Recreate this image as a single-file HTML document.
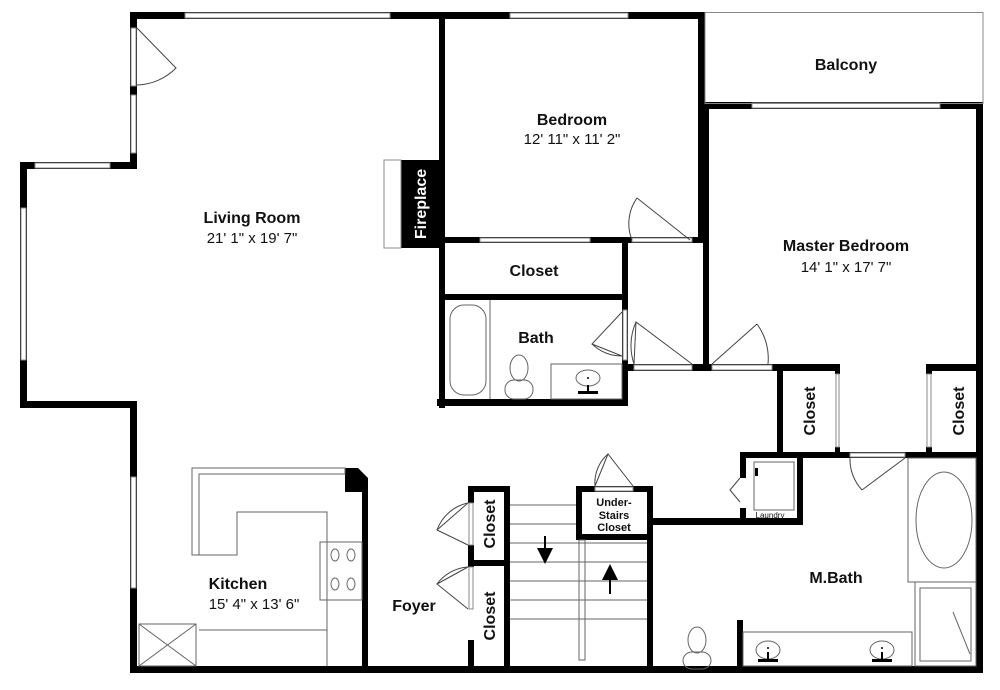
<!DOCTYPE html>
<html><head><meta charset="utf-8"><style>
html,body{margin:0;padding:0;background:#fff;width:1000px;height:690px;overflow:hidden}
text{font-family:"Liberation Sans",Arial,sans-serif;fill:#111}
.b{font-weight:bold;font-size:16px}
.d{font-size:15px}
</style></head><body>
<svg width="1000" height="690" viewBox="0 0 1000 690" xmlns="http://www.w3.org/2000/svg">
<g fill="#000">
<rect x="130" y="12" width="575" height="7"/>
<rect x="130" y="12" width="7" height="157"/>
<rect x="20" y="162" width="117" height="7"/>
<rect x="20" y="162" width="7" height="246"/>
<rect x="20" y="401" width="117" height="7"/>
<rect x="130" y="401" width="7" height="272"/>
<rect x="130" y="666" width="853" height="7"/>
<rect x="976" y="103" width="7" height="570"/>
<rect x="439" y="12" width="6" height="396"/>
<rect x="698" y="12" width="7" height="231"/>
<rect x="705" y="102" width="278" height="7"/>
<rect x="703" y="102" width="6" height="268"/>
<rect x="445" y="237" width="255" height="6"/>
<rect x="445" y="294" width="183" height="6"/>
<rect x="622" y="237" width="6" height="169"/>
<rect x="437" y="399" width="191" height="7"/>
<rect x="622" y="364" width="161" height="7"/>
<rect x="777" y="364" width="63" height="7"/>
<rect x="777" y="364" width="6" height="94"/>
<rect x="835" y="364" width="5" height="10"/><rect x="835" y="447" width="5" height="10"/>
<rect x="740" y="452" width="243" height="6"/>
<rect x="926" y="364" width="57" height="7"/>
<rect x="926" y="364" width="6" height="10"/><rect x="926" y="447" width="6" height="10"/>
<rect x="740" y="452" width="6" height="26"/>
<rect x="740" y="508" width="6" height="17"/>
<rect x="797" y="452" width="6" height="73"/>
<rect x="650" y="518" width="153" height="7"/>
<rect x="576" y="486" width="77" height="6"/>
<rect x="576" y="486" width="6" height="54"/>
<rect x="576" y="534" width="77" height="6"/>
<rect x="647" y="486" width="6" height="187"/>
<rect x="468" y="486" width="42" height="6"/>
<rect x="468" y="486" width="6" height="17"/><rect x="468" y="545" width="6" height="22"/><rect x="468" y="640" width="6" height="33"/>
<rect x="504" y="486" width="6" height="187"/>
<rect x="468" y="560" width="42" height="6"/>
<rect x="362" y="490" width="6" height="183"/>
<polygon points="345,468 358,468 368,478 368,492 345,492"/>
<rect x="737" y="620" width="6" height="53"/>
<rect x="401" y="160" width="38" height="88"/>
</g>
<g fill="#fff" stroke="#888" stroke-width="1">
<rect x="185" y="13" width="205" height="5"/>
<rect x="510" y="13" width="118" height="5"/>
<rect x="131" y="28" width="5" height="58"/>
<rect x="131" y="95" width="5" height="58"/>
<rect x="35" y="163" width="75" height="5"/>
<rect x="21" y="208" width="5" height="152"/>
<rect x="131" y="477" width="5" height="111"/>
<rect x="752" y="103" width="188" height="5"/>
<rect x="480" y="238" width="110" height="4"/>
<rect x="632" y="238" width="60" height="4"/>
<rect x="623" y="310" width="4" height="50"/>
<rect x="634" y="365" width="58" height="5"/>
<rect x="712" y="365" width="60" height="5"/>
<rect x="836" y="374" width="3" height="73"/>
<rect x="927" y="374" width="4" height="73"/>
<rect x="850" y="453" width="55" height="4"/>
<rect x="469" y="503" width="4" height="42"/>
<rect x="469" y="567" width="4" height="42"/>
<rect x="595" y="487" width="38" height="4"/>
<rect x="384" y="160" width="17" height="88"/>
</g>
<rect x="705" y="12.5" width="278" height="91" fill="none" stroke="#888" stroke-width="1"/>
<g fill="none" stroke="#444" stroke-width="1">
<path d="M137 28 L176 68 A57 57 0 0 1 137 85"/>
<path d="M637 198 L690 240 M632 240 A44 44 0 0 1 637 198"/>
<path d="M622 312 L592 344 L622 356 A44 44 0 0 1 592 344"/>
<path d="M634 364 L636 322 L692 364 M636 322 A58 58 0 0 0 634 364"/>
<path d="M712 364 L757 324 M757 324 A58 58 0 0 1 768 364"/>
<path d="M905 458 L862 490 M862 490 A45 45 0 0 1 850 458"/>
<path d="M740 478 L730 490 L740 502"/>
<path d="M595 486 L608 454 L633 486 M608 454 A38 38 0 0 0 595 486"/>
<path d="M468 503 L437 530 L468 545 M437 530 A42 42 0 0 1 468 503"/>
<path d="M468 609 L437 584 L468 567 M437 584 A42 42 0 0 1 468 567"/>
</g>
<g fill="none" stroke="#666" stroke-width="1">
<rect x="450" y="305" width="36" height="90" rx="14"/>
<line x1="490" y1="300" x2="490" y2="399"/>
<rect x="551" y="364" width="71" height="35"/>
<ellipse cx="588" cy="378" rx="12" ry="8"/>
<ellipse cx="519" cy="368" rx="9" ry="13"/>
<rect x="505" y="380" width="28" height="19" rx="9"/>
<line x1="510" y1="505" x2="576" y2="505"/><line x1="510" y1="524" x2="576" y2="524"/>
<line x1="510" y1="543" x2="647" y2="543"/><line x1="510" y1="562" x2="647" y2="562"/>
<line x1="510" y1="581" x2="647" y2="581"/><line x1="510" y1="600" x2="647" y2="600"/>
<line x1="510" y1="619" x2="647" y2="619"/>
<rect x="579" y="540" width="6" height="120"/>
<path d="M192 468 L345 468 L345 474 L199 474 L199 555 L192 555 Z"/>
<path d="M199 555 L237 555 L237 512 L327 512 L327 666"/>
<path d="M199 630 L327 630"/>
<rect x="320" y="542" width="42" height="58"/>
<ellipse cx="335" cy="555" rx="4" ry="6"/><ellipse cx="351" cy="555" rx="4" ry="6"/>
<ellipse cx="335" cy="584" rx="4" ry="6"/><ellipse cx="351" cy="584" rx="4" ry="6"/>
<rect x="139" y="624" width="57" height="42"/>
<path d="M139 624 L196 666 M196 624 L139 666"/>
<rect x="908" y="458" width="68" height="124"/>
<ellipse cx="944" cy="520" rx="28" ry="48"/>
<rect x="915" y="582" width="61" height="84"/>
<rect x="920" y="588" width="51" height="73"/>
<line x1="953" y1="612" x2="970" y2="654"/>
<rect x="743" y="632" width="169" height="34"/>
<ellipse cx="768" cy="650" rx="12" ry="9"/>
<ellipse cx="882" cy="650" rx="12" ry="9"/>
<ellipse cx="697" cy="640" rx="9" ry="13"/>
<rect x="683" y="652" width="28" height="17" rx="9"/>
<rect x="754" y="462" width="40" height="48"/>
</g>
<g fill="#000">
<rect x="544" y="536" width="2" height="14"/><polygon points="537,548 553,548 545,564"/>
<rect x="609" y="578" width="2" height="16"/><polygon points="602,580 618,580 610,564"/>
<rect x="755" y="468" width="3" height="8"/>
<rect x="578" y="391" width="20" height="3"/><rect x="587" y="385" width="2" height="8"/>
<rect x="758" y="659" width="20" height="3"/><rect x="767" y="652" width="2" height="8"/>
<rect x="872" y="659" width="20" height="3"/><rect x="881" y="652" width="2" height="8"/>
<circle cx="588" cy="378" r="1"/><circle cx="768" cy="648" r="1"/><circle cx="882" cy="648" r="1"/>
</g>
<text class="b" x="252" y="223" text-anchor="middle">Living Room</text>
<text class="d" x="252" y="243" text-anchor="middle">21' 1" x 19' 7"</text>
<text class="b" x="572" y="125" text-anchor="middle">Bedroom</text>
<text class="d" x="572" y="144" text-anchor="middle">12' 11" x 11' 2"</text>
<text class="b" x="846" y="70" text-anchor="middle">Balcony</text>
<text class="b" x="846" y="251" text-anchor="middle">Master Bedroom</text>
<text class="d" x="846" y="272" text-anchor="middle">14' 1" x 17' 7"</text>
<text class="b" x="534" y="276" text-anchor="middle">Closet</text>
<text class="b" x="536" y="343" text-anchor="middle">Bath</text>
<text class="b" x="238" y="589" text-anchor="middle">Kitchen</text>
<text class="d" x="254" y="609" text-anchor="middle">15' 4" x 13' 6"</text>
<text class="b" x="414" y="611" text-anchor="middle">Foyer</text>
<text class="b" x="836" y="583" text-anchor="middle">M.Bath</text>
<text x="614" y="506" text-anchor="middle" style="font-size:11px;font-weight:bold">Under-</text>
<text x="614" y="519" text-anchor="middle" style="font-size:11px;font-weight:bold">Stairs</text>
<text x="614" y="531" text-anchor="middle" style="font-size:11px;font-weight:bold">Closet</text>
<text x="770" y="518" text-anchor="middle" style="font-size:8px">Laundry</text>
<text class="b" transform="translate(426 204) rotate(-90)" text-anchor="middle" style="fill:#fff">Fireplace</text>
<text class="b" transform="translate(815 411) rotate(-90)" text-anchor="middle">Closet</text>
<text class="b" transform="translate(964 411) rotate(-90)" text-anchor="middle">Closet</text>
<text class="b" transform="translate(495 524) rotate(-90)" text-anchor="middle">Closet</text>
<text class="b" transform="translate(495 616) rotate(-90)" text-anchor="middle">Closet</text>
</svg>
</body></html>
